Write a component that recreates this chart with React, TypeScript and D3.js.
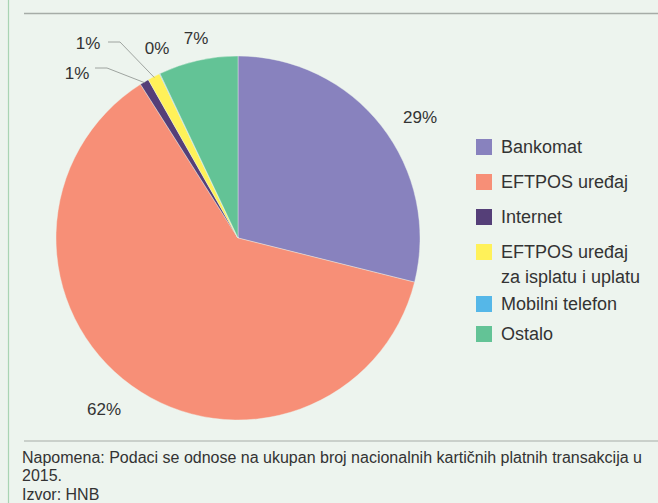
import React from "react";
import * as d3 from "d3";

const categories = ["Bankomat", "EFTPOS uređaj", "Internet", "EFTPOS uređaj za isplatu i uplatu", "Mobilni telefon", "Ostalo"];
const legendLines = [["Bankomat"], ["EFTPOS uređaj"], ["Internet"], ["EFTPOS uređaj", "za isplatu i uplatu"], ["Mobilni telefon"], ["Ostalo"]];
const values = [28.9, 62.1, 0.8, 1.1, 0.05, 7.05];
const labels = ["29%", "62%", "1%", "1%", "0%", "7%"];
const colors = ["#8882be", "#f78f77", "#553f78", "#fff159", "#55b7e8", "#63c396"];
const notes = ["Napomena: Podaci se odnose na ukupan broj nacionalnih karti\u010dnih platnih transakcija u", "2015.", "Izvor: HNB"];

const W = 658, H = 503;
const cx = 238, cy = 238, R = 182;
const font = "'Liberation Sans', Arial, sans-serif";

export default function App() {
  const pie = d3.pie<number>().value(d => d).sort(null);
  const arcs = pie(values);
  const arc = d3.arc<d3.PieArcDatum<number>>().innerRadius(0).outerRadius(R);
  const outer = (a: number, r: number) => [Math.sin(a) * r, -Math.cos(a) * r];

  const labelPos: Record<number, [number, number]> = {
    0: [420 - cx, 117 - cy],
    1: [104 - cx, 409 - cy],
    2: [77 - cx, 73 - cy],
    3: [88 - cx, 43 - cy],
    4: [157 - cx, 48 - cy],
    5: [196 - cx, 38 - cy],
  };
  const leaders: Record<number, { knee: [number, number]; start: [number, number] }> = {
    2: { start: [95, 68], knee: [107, 68] },
    3: { start: [108, 42], knee: [120, 42] },
  };

  const legendRows = [147, 182, 217, 252, 304, 334];

  return (
    <svg width={W} height={H} style={{ position: "absolute", left: 0, top: 0, background: "#edf4ee" }}>
      <rect x={0} y={0} width={W} height={H} fill="#edf4ee" />
      <line x1={8.5} y1={0} x2={8.5} y2={H} stroke="#a9d4b3" strokeWidth={1.2} />
      <line x1={24} y1={13.5} x2={W} y2={13.5} stroke="#a6aca7" strokeWidth={1.4} />
      <line x1={24} y1={441} x2={W} y2={441} stroke="#a6aca7" strokeWidth={1} />
      <g transform={`translate(${cx},${cy})`}>
        {arcs.map((a, i) => (
          <path key={i} d={arc(a) || ""} fill={colors[i]} stroke="#edf4ee" strokeWidth={0.4} />
        ))}
        {arcs.map((a, i) => {
          const [lx, ly] = labelPos[i];
          const ld = leaders[i];
          const mid = (a.startAngle + a.endAngle) / 2;
          const [ex, ey] = outer(mid, R - 1);
          return (
            <g key={"l" + i}>
              {ld && (
                <polyline
                  points={`${ld.start[0] - cx},${ld.start[1] - cy} ${ld.knee[0] - cx},${ld.knee[1] - cy} ${ex},${ey}`}
                  fill="none"
                  stroke="#8a8f8b"
                  strokeWidth={0.8}
                />
              )}
              <text x={lx} y={ly} textAnchor="middle" dominantBaseline="central" fontFamily={font} fontSize={17} fill="#333">
                {labels[i]}
              </text>
            </g>
          );
        })}
      </g>
      {categories.map((c, i) => (
        <g key={c} transform={`translate(476,${legendRows[i]})`}>
          <rect x={0} y={-8} width={16} height={16} fill={colors[i]} />
          {legendLines[i].map((t, j) => (
            <text key={j} x={25} y={j * 25} dominantBaseline="central" fontFamily={font} fontSize={18} fill="#333">
              {t}
            </text>
          ))}
        </g>
      ))}
      {notes.map((n, i) => (
        <text key={i} x={22} y={457 + i * 18.5} dominantBaseline="central" fontFamily={font} fontSize={16} fill="#333">
          {n}
        </text>
      ))}
    </svg>
  );
}
